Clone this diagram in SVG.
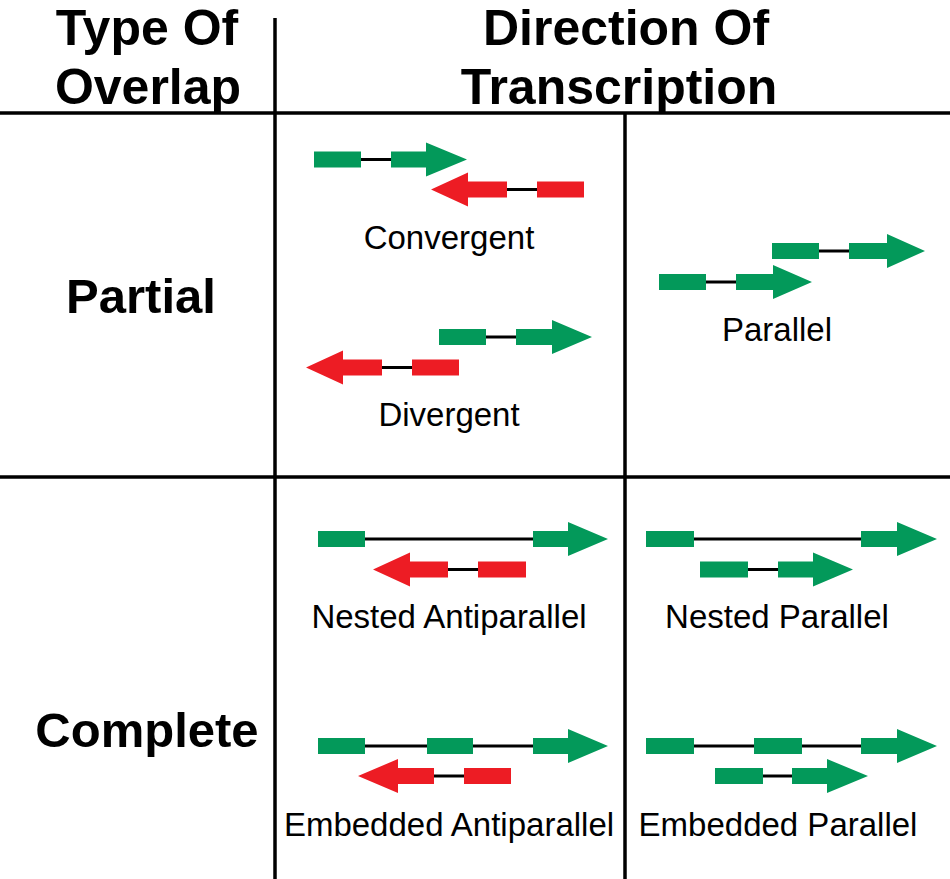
<svg xmlns="http://www.w3.org/2000/svg" width="950" height="879" viewBox="0 0 950 879">
<style>
.grid{stroke:#000;stroke-width:3.5;fill:none}
.hdr{font-family:"Liberation Sans",Arial,sans-serif;font-weight:bold;font-size:50px;fill:#000;text-anchor:middle}
.row{font-family:"Liberation Sans",Arial,sans-serif;font-weight:bold;font-size:49px;fill:#000;text-anchor:middle}
.lbl{font-family:"Liberation Sans",Arial,sans-serif;font-size:33px;fill:#000;text-anchor:middle}
.g{fill:#03995a}
.r{fill:#ed1c24}
.ln{stroke:#000;stroke-width:3}
</style>
<rect width="950" height="879" fill="#fff"/>
<g id="grid">
<line class="grid" x1="0" y1="113" x2="950" y2="113"/>
<line class="grid" x1="0" y1="477" x2="950" y2="477"/>
<line class="grid" x1="275" y1="18" x2="275" y2="879"/>
<line class="grid" x1="625" y1="113" x2="625" y2="879"/>
</g>
<g id="headers">
<text class="hdr" x="147" y="45">Type Of</text>
<text class="hdr" x="148" y="104">Overlap</text>
<text class="hdr" x="626" y="45">Direction Of</text>
<text class="hdr" x="619" y="104">Transcription</text>
<text class="row" x="141" y="313">Partial</text>
<text class="row" x="147" y="747">Complete</text>
</g>
<g id="convergent">
<line class="ln" x1="361" y1="159.5" x2="391" y2="159.5"/>
<rect class="g" x="314" y="151.5" width="47" height="16"/>
<polygon class="g" points="391,151.5 426,151.5 426,142.5 467,159.5 426,176.5 426,167.5 391,167.5"/>
<line class="ln" x1="507" y1="189.5" x2="537" y2="189.5"/>
<rect class="r" x="537" y="181.5" width="47" height="16"/>
<polygon class="r" points="507,181.5 468,181.5 468,172.5 431,189.5 468,206.5 468,197.5 507,197.5"/>
<text class="lbl" x="449" y="249">Convergent</text>
</g>
<g id="divergent">
<line class="ln" x1="486" y1="337" x2="516" y2="337"/>
<rect class="g" x="439" y="329" width="47" height="16"/>
<polygon class="g" points="516,329 552,329 552,320 592,337 552,354 552,345 516,345"/>
<line class="ln" x1="382" y1="367.5" x2="412" y2="367.5"/>
<rect class="r" x="412" y="359.5" width="47" height="16"/>
<polygon class="r" points="382,359.5 343,359.5 343,350.5 306,367.5 343,384.5 343,375.5 382,375.5"/>
<text class="lbl" x="449" y="426">Divergent</text>
</g>
<g id="parallel">
<line class="ln" x1="819" y1="251" x2="849" y2="251"/>
<rect class="g" x="772" y="243" width="47" height="16"/>
<polygon class="g" points="849,243 887,243 887,234 925,251 887,268 887,259 849,259"/>
<line class="ln" x1="706" y1="282" x2="736" y2="282"/>
<rect class="g" x="659" y="274" width="47" height="16"/>
<polygon class="g" points="736,274 773,274 773,265 812,282 773,299 773,290 736,290"/>
<text class="lbl" x="777" y="341">Parallel</text>
</g>
<g id="nested-antiparallel">
<line class="ln" x1="365" y1="539" x2="533" y2="539"/>
<rect class="g" x="318" y="531" width="47" height="16"/>
<polygon class="g" points="533,531 568,531 568,522 608,539 568,556 568,547 533,547"/>
<line class="ln" x1="448" y1="569.5" x2="478" y2="569.5"/>
<rect class="r" x="478" y="561.5" width="48" height="16"/>
<polygon class="r" points="448,561.5 410,561.5 410,552.5 373,569.5 410,586.5 410,577.5 448,577.5"/>
<text class="lbl" x="449" y="628">Nested Antiparallel</text>
</g>
<g id="nested-parallel">
<line class="ln" x1="694" y1="539" x2="861" y2="539"/>
<rect class="g" x="646" y="531" width="48" height="16"/>
<polygon class="g" points="861,531 897,531 897,522 937,539 897,556 897,547 861,547"/>
<line class="ln" x1="748" y1="569.5" x2="778" y2="569.5"/>
<rect class="g" x="700" y="561.5" width="48" height="16"/>
<polygon class="g" points="778,561.5 813,561.5 813,552.5 853,569.5 813,586.5 813,577.5 778,577.5"/>
<text class="lbl" x="777" y="628">Nested Parallel</text>
</g>
<g id="embedded-antiparallel">
<line class="ln" x1="365" y1="746" x2="533" y2="746"/>
<rect class="g" x="318" y="738" width="47" height="16"/>
<rect class="g" x="427" y="738" width="46" height="16"/>
<polygon class="g" points="533,738 568,738 568,729 608,746 568,763 568,754 533,754"/>
<line class="ln" x1="434" y1="776" x2="464" y2="776"/>
<rect class="r" x="464" y="768" width="47" height="16"/>
<polygon class="r" points="434,768 398,768 398,759 358,776 398,793 398,784 434,784"/>
<text class="lbl" x="449" y="836">Embedded Antiparallel</text>
</g>
<g id="embedded-parallel">
<line class="ln" x1="694" y1="746" x2="861" y2="746"/>
<rect class="g" x="646" y="738" width="48" height="16"/>
<rect class="g" x="754" y="738" width="48" height="16"/>
<polygon class="g" points="861,738 897,738 897,729 937,746 897,763 897,754 861,754"/>
<line class="ln" x1="763" y1="776" x2="792" y2="776"/>
<rect class="g" x="715" y="768" width="48" height="16"/>
<polygon class="g" points="792,768 827,768 827,759 868,776 827,793 827,784 792,784"/>
<text class="lbl" x="778" y="836">Embedded Parallel</text>
</g>
</svg>
